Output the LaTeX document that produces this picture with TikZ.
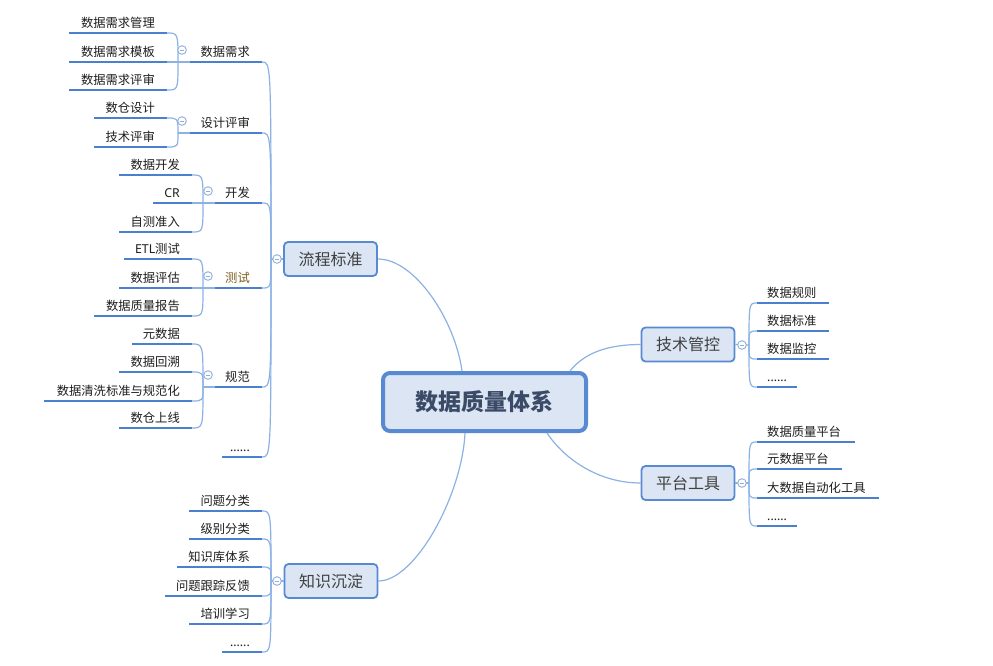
\documentclass[tikz,border=0pt]{standalone}
\usepackage{fontspec}
\setmainfont{Noto Sans CJK SC}
\newfontfamily\latinf{Noto Sans}
\usetikzlibrary{calc}
\definecolor{ulc}{RGB}{74,128,206}
\definecolor{conc}{RGB}{140,178,228}
\definecolor{boxfill}{RGB}{219,229,243}
\definecolor{boxdraw}{RGB}{88,138,210}
\definecolor{txt}{RGB}{30,30,30}
\definecolor{lonetxt}{RGB}{64,64,64}
\definecolor{roottxt}{RGB}{59,74,102}
\definecolor{testc}{RGB}{120,95,30}
\definecolor{btnc}{RGB}{142,174,220}
\newcommand{\LL}[6][]{%
  \coordinate (#2s) at (#3,#5);
  \coordinate (#2e) at (#4,#5);
  \draw[uline] (#2s) -- (#2e);
  \node[ltext,anchor=east,#1] (#2) at (#4-12,#5-10.5) {#6};
}
\newcommand{\LR}[6][]{%
  \coordinate (#2s) at (#3,#5);
  \coordinate (#2e) at (#4,#5);
  \draw[uline] (#2s) -- (#2e);
  \node[ltext,anchor=west,#1] (#2) at (#3+10,#5-10.5) {#6};
}
\begin{document}
\begin{tikzpicture}[x=1pt,y=-1pt,
  uline/.style={draw=ulc,line width=2.4pt},
  conn/.style={draw=conc,line width=1.2pt},
  ltext/.style={font=\fontsize{12.3}{14}\selectfont,text=txt,inner sep=0pt,text height=10.5pt,text depth=1.2pt},
  lvone/.style={draw=boxdraw,fill=boxfill,line width=1.8pt,rounded corners=4pt,minimum width=93pt,minimum height=34pt,inner sep=0pt,font=\fontsize{16}{19}\selectfont,text=lonetxt},
  rootbox/.style={draw=boxdraw,fill=boxfill,line width=4pt,rounded corners=7pt,minimum width=203pt,minimum height=58pt,inner sep=0pt,font=\fontsize{23}{27}\selectfont\bfseries,text=roottxt},
  collapsebtn/.style={circle,draw=btnc,fill=white,line width=0.9pt,minimum size=8.6pt,inner sep=0pt,
    path picture={\draw[btnc,line width=0.9pt] ([xshift=-2.3pt]path picture bounding box.center) -- ([xshift=2.3pt]path picture bounding box.center);}}
]
\useasboundingbox[fill=white] (0,0) rectangle (993,665);

% main boxes
\node[rootbox] (root) at (484.5,402) {数据质量体系};
\node[lvone] (lc) at (330.5,259) {流程标准};
\node[lvone] (ks) at (331,581) {知识沉淀};
\node[lvone] (jk) at (688,344.5) {技术管控};
\node[lvone] (pt) at (688,483) {平台工具};

% junctions
\coordinate (jlc) at (271,259);
\coordinate (jks) at (271,581);
\coordinate (jjk) at (749,345);
\coordinate (jpt) at (749,483);

% central connectors
\draw[conn] (lc.east) .. controls +(37,0) and +(-7,-51) .. ($(root.north)+(-22.5,0)$);
\draw[conn] ($(root.north east)+(-18,0)$) .. controls +(15,-19) and +(-31,0) .. (jk.west);
\draw[conn] ($(root.south)+(62.5,0)$) .. controls +(18,27) and +(-41,0) .. (pt.west);
\draw[conn] ($(root.south)+(-19.5,0)$) .. controls +(-3,62) and +(37,0) .. (ks.east);

% ---- 流程标准 branch ----
\LL{xq}{190}{262}{62}{数据需求}
\LL{sj}{190}{262}{133}{设计评审}
\LL{kf}{215}{262}{203}{开发}
\LL[text=testc]{cs}{215}{262}{288}{测试}
\LL{gf}{215}{262}{387}{规范}
\LL{ld}{222}{262}{457}{{\latinf ......}}

\coordinate (jxq) at (178,62);
\coordinate (jsj) at (178,133);
\coordinate (jkf) at (203,203);
\coordinate (jcs) at (203,288);
\coordinate (jgf) at (203,387);

\LL{xqa}{69}{167}{33}{数据需求管理}
\LL{xqb}{69}{167}{62}{数据需求模板}
\LL{xqc}{69}{167}{90}{数据需求评审}
\LL{sja}{94}{167}{118}{数仓设计}
\LL{sjb}{94}{167}{147}{技术评审}
\LL{kfa}{119}{192}{175}{数据开发}
\LL{kfb}{153}{192}{203}{{\latinf CR}}
\LL{kfc}{119}{192}{232}{自测准入}
\LL{csa}{124}{192}{259}{{\latinf ETL}测试}
\LL{csb}{119}{192}{288}{数据评估}
\LL{csc}{94}{192}{316}{数据质量报告}
\LL{gfa}{132}{192}{344}{元数据}
\LL{gfb}{119}{192}{372}{数据回溯}
\LL{gfc}{44}{192}{401}{数据清洗标准与规范化}
\LL{gfd}{119}{192}{428}{数仓上线}

\foreach \nm in {xq,sj,kf,cs,gf,ld}
  \draw[conn] (\nm e) .. controls (\nm e -| jlc) .. (jlc);
\draw[conn] (jlc) -- (lc.west);

\foreach \nm in {xqa,xqb,xqc}
  \draw[conn] (\nm e) .. controls (\nm e -| jxq) .. (jxq);
\draw[conn] (jxq) -- (xqs);
\foreach \nm in {sja,sjb}
  \draw[conn] (\nm e) .. controls (\nm e -| jsj) .. (jsj);
\draw[conn] (jsj) -- (sjs);
\foreach \nm in {kfa,kfb,kfc}
  \draw[conn] (\nm e) .. controls (\nm e -| jkf) .. (jkf);
\draw[conn] (jkf) -- (kfs);
\foreach \nm in {csa,csb,csc}
  \draw[conn] (\nm e) .. controls (\nm e -| jcs) .. (jcs);
\draw[conn] (jcs) -- (css);
\foreach \nm in {gfa,gfb,gfc,gfd}
  \draw[conn] (\nm e) .. controls (\nm e -| jgf) .. (jgf);
\draw[conn] (jgf) -- (gfs);

% ---- 知识沉淀 branch ----
\LL{ksa}{189}{262}{511}{问题分类}
\LL{ksb}{189}{262}{539}{级别分类}
\LL{ksc}{177}{262}{567}{知识库体系}
\LL{ksd}{165}{262}{596}{问题跟踪反馈}
\LL{kse}{189}{262}{624}{培训学习}
\LL{ksf}{222}{262}{652}{{\latinf ......}}
\foreach \nm in {ksa,ksb,ksc,ksd,kse,ksf}
  \draw[conn] (\nm e) .. controls (\nm e -| jks) .. (jks);
\draw[conn] (jks) -- (ks.west);

% ---- 技术管控 branch ----
\LR{jka}{757}{829}{303}{数据规则}
\LR{jkb}{757}{829}{331}{数据标准}
\LR{jkc}{757}{829}{359}{数据监控}
\LR{jkd}{757}{797}{387}{{\latinf ......}}
\foreach \nm in {jka,jkb,jkc,jkd}
  \draw[conn] (jjk) .. controls (\nm s -| jjk) .. (\nm s);
\draw[conn] (jk.east) -- (jjk);

% ---- 平台工具 branch ----
\LR{pta}{757}{855}{442}{数据质量平台}
\LR{ptb}{757}{842}{469}{元数据平台}
\LR{ptc}{757}{879}{498}{大数据自动化工具}
\LR{ptd}{757}{797}{526}{{\latinf ......}}
\foreach \nm in {pta,ptb,ptc,ptd}
  \draw[conn] (jpt) .. controls (\nm s -| jpt) .. (\nm s);
\draw[conn] (pt.east) -- (jpt);

% collapse buttons
\node[collapsebtn] (bxq) at (182,50) {};
\node[collapsebtn] (bsj) at (182,121) {};
\node[collapsebtn] (bkf) at (208,191) {};
\node[collapsebtn] (bcs) at (208,276) {};
\node[collapsebtn] (bgf) at (208,375) {};
\node[collapsebtn] (blc) at (277,259) {};
\node[collapsebtn] (bks) at (277,581) {};
\node[collapsebtn] (bjk) at (742,345) {};
\node[collapsebtn] (bpt) at (742,483) {};
\end{tikzpicture}
\end{document}
